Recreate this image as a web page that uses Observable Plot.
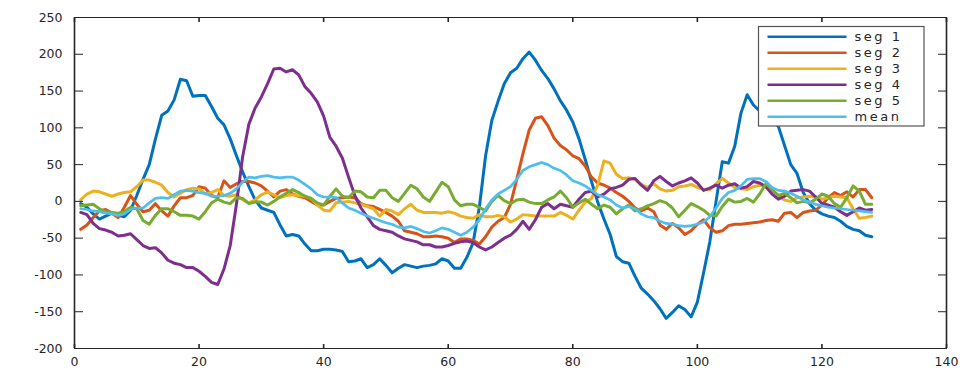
<!DOCTYPE html>
<html><head><meta charset="utf-8">
<script src="https://cdn.jsdelivr.net/npm/d3@7"></script>
<script src="https://cdn.jsdelivr.net/npm/@observablehq/plot@0.6"></script>
<style>
body{margin:0;background:#fff;}
#chart{width:972px;height:371px;}
</style>
</head><body><div id="chart"></div>
<script>
const xDomain = [0, 140];
const yDomain = [-200, 250];
const xTicks = [0, 20, 40, 60, 80, 100, 120, 140];
const yTicks = [-200, -150, -100, -50, 0, 50, 100, 150, 200, 250];
const seriesNames = ["seg 1", "seg 2", "seg 3", "seg 4", "seg 5", "mean"];
const seriesColors = ["#0072BD", "#D95319", "#EDB120", "#7E2F8E", "#77AC30", "#4DBEEE"];

const seg1 = [-3,-8,-17,-24,-20,-16,-19,-21,-12,8, 30,50,85,117,123,138,166,164,143,144,
  144,129,113,104,85,62,40,20,2,-9, -12,-15,-32,-47,-45,-47,-58,-67,-67,-65,
  -65,-66,-68,-82,-81,-78,-90,-86,-78,-87, -97,-91,-86,-88,-90,-88,-87,-85,-78,-81,
  -91,-91,-76,-56,-8,62,110,136,160,175, 181,194,203,192,178,167,153,137,124,108,
  85,57,27,-1,-24,-45,-75,-82,-84,-102, -118,-126,-135,-146,-159,-151,-142,-147,-157,-137,
  -97,-55,0,54,52,75,120,145,131,123, 118,110,102,76,50,38,12,-3,-12,-17,
  -20,-22,-27,-34,-38,-40,-46,-48];
const seg2 = [-38,-32,-22,-13,-11,-16,-22,-8,8,-4, -14,-12,-3,-13,-20,-6,5,5,8,20,
  18,8,5,28,19,24,27,27,25,21, 14,6,14,16,10,7,5,0,-5,-5,
  0,4,5,6,5,-3,-6,-7,-11,-15, -20,-27,-40,-42,-44,-48,-48,-47,-48,-50,
  -56,-51,-51,-53,-58,-48,-35,-27,-22,-4, 30,65,97,113,115,103,86,76,70,62,
  58,48,33,25,22,18,12,7,0,-9, -13,-9,-14,-32,-38,-30,-36,-45,-40,-31,
  -25,-36,-42,-40,-33,-31,-31,-30,-29,-28, -26,-25,-27,-16,-15,-22,-15,-13,-12,-5,
  5,12,8,13,6,16,16,5];
const seg3 = [2,10,14,13,10,7,10,12,13,20, 29,29,26,22,12,6,11,16,18,17,
  10,12,16,8,7,9,2,-2,2,9, 13,9,5,8,9,8,7,4,-5,-12,
  -13,-2,-1,0,-2,-4,-7,-10,-20,-11, -13,-18,-10,-4,-12,-15,-15,-15,-16,-14,
  -16,-20,-22,-23,-18,-21,-21,-19,-21,-28, -24,-18,-19,-20,-20,-20,-20,-15,-19,-24,
  -12,-1,4,22,55,52,37,31,32,30, 23,19,24,17,14,15,20,21,23,19,
  16,16,24,31,25,19,17,16,20,22, 21,16,8,2,0,5,6,7,6,3,
  5,7,6,5,-10,-23,-22,-20];
const seg4 = [-15,-18,-30,-37,-39,-42,-47,-46,-44,-52, -60,-64,-63,-70,-80,-84,-86,-90,-90,-95,
  -102,-110,-113,-92,-60,-4,61,105,127,142, 160,180,181,176,179,172,156,147,135,116,
  87,75,59,33,8,-9,-21,-33,-38,-40, -42,-47,-51,-53,-55,-59,-59,-62,-62,-60,
  -57,-55,-54,-56,-62,-66,-62,-56,-50,-46, -38,-27,-38,-25,-8,-3,-10,-4,-6,-8,
  3,12,14,6,10,17,19,22,30,31, 22,15,28,34,27,21,25,28,32,25,
  15,18,22,18,22,24,18,20,27,25, 20,10,3,7,14,15,16,14,6,-3,
  -5,-8,-14,-19,-14,-9,-12,-11];
const seg5 = [-6,-5,-4,-10,-14,-15,-16,-14,-8,-10, -26,-31,-19,-10,-10,-14,-19,-19,-20,-24,
  -14,-2,3,-1,-3,5,4,-3,-1,-1, -5,0,6,11,16,12,7,4,-2,-5,
  7,17,7,5,14,13,6,5,15,15, 5,0,11,22,17,6,0,13,26,20,
  2,-6,-4,-4,-8,-13,0,8,1,-3, 2,3,-1,-3,-3,2,6,14,5,-8,
  -2,3,-4,-10,-5,-8,-17,-10,-5,-13, -10,-6,-3,1,-2,-9,-21,-12,-3,-7,
  -12,-19,-20,-7,3,-1,0,4,-1,10, 24,16,8,11,5,-2,0,-2,3,10,
  7,-3,-8,5,21,14,-4,-4];
const meanSeg = [-10,-11,-13,-14,-16,-17,-19,-17,-11,-9, -9,-2,4,5,4,9,14,15,14,12,
  11,7,7,8,11,17,26,33,32,34, 35,33,32,33,33,29,23,17,9,6,
  6,5,-2,-9,-12,-16,-20,-23,-26,-29, -31,-35,-36,-34,-37,-41,-43,-40,-36,-38,
  -42,-46,-42,-35,-25,-10,2,10,15,20, 30,42,47,50,53,50,45,42,36,28,
  25,21,15,9,6,2,-5,-9,-7,-10, -17,-21,-22,-27,-30,-31,-33,-34,-33,-31,
  -28,-21,-9,4,12,15,21,30,31,31, 27,19,15,14,11,7,2,-1,-4,-6,
  -8,-9,-10,-11,-12,-13,-14,-15];

const series = [seg1, seg2, seg3, seg4, seg5, meanSeg];
const fmt = d => String(d);
const axisColor = "#262626";

const plot = Plot.plot({
  width: 972, height: 371,
  marginLeft: 74, marginRight: 26, marginTop: 17, marginBottom: 23,
  x: {domain: xDomain},
  y: {domain: yDomain},
  style: {fontFamily: "'DejaVu Sans', sans-serif", fontSize: "12.5px", color: axisColor},
  marks: [
    ...series.map((s, k) => Plot.line(s, {
      x: (d, i) => i + 1, y: d => d,
      stroke: seriesColors[k], strokeWidth: k === 5 ? 2.7 : 3,
      strokeLinejoin: "round", strokeLinecap: "round"
    })),
    Plot.ruleX(xDomain, {stroke: axisColor, strokeWidth: 1.6}),
    Plot.ruleY(yDomain, {stroke: axisColor, strokeWidth: 1}),
    Plot.axisY(yTicks, {anchor: "left", tickSize: 0, tickPadding: 12, tickFormat: fmt, label: null}),
    Plot.axisY(yTicks, {anchor: "left", tickSize: -9, tickFormat: () => "", label: null, stroke: axisColor}),
    Plot.axisY(yTicks, {anchor: "right", tickSize: -9, tickFormat: () => "", label: null, stroke: axisColor}),
    Plot.axisX(xTicks, {anchor: "bottom", tickSize: 0, tickPadding: 9, tickFormat: fmt, label: null}),
    Plot.axisX(xTicks, {anchor: "bottom", tickSize: -4, tickFormat: () => "", label: null, strokeWidth: 1.6, stroke: axisColor}),
    Plot.axisX(xTicks, {anchor: "top", tickSize: -4, tickFormat: () => "", label: null, strokeWidth: 1.6, stroke: axisColor})
  ]
});

document.getElementById("chart").appendChild(plot);

// legend (MATLAB-style box, top right), no transforms
const svg = d3.select(plot);
const lg = svg.append("g").attr("aria-label", "legend");
lg.append("rect").attr("x", 758.5).attr("y", 26.5).attr("width", 165.5).attr("height", 99.5)
  .attr("fill", "#ffffff").attr("stroke", "#555555").attr("stroke-width", 1.2);
seriesNames.forEach((name, k) => {
  const yy = 36.7 + k * 16;
  lg.append("line").attr("x1", 767.5).attr("x2", 846.5).attr("y1", yy).attr("y2", yy)
    .attr("stroke", seriesColors[k]).attr("stroke-width", 2.4);
  lg.append("text").attr("x", 854.5).attr("y", yy).attr("dy", "0.36em")
    .attr("text-anchor", "start").attr("fill", axisColor)
    .attr("font-size", "13px").attr("letter-spacing", "2.5px").text(name);
});
</script>
</body></html>
